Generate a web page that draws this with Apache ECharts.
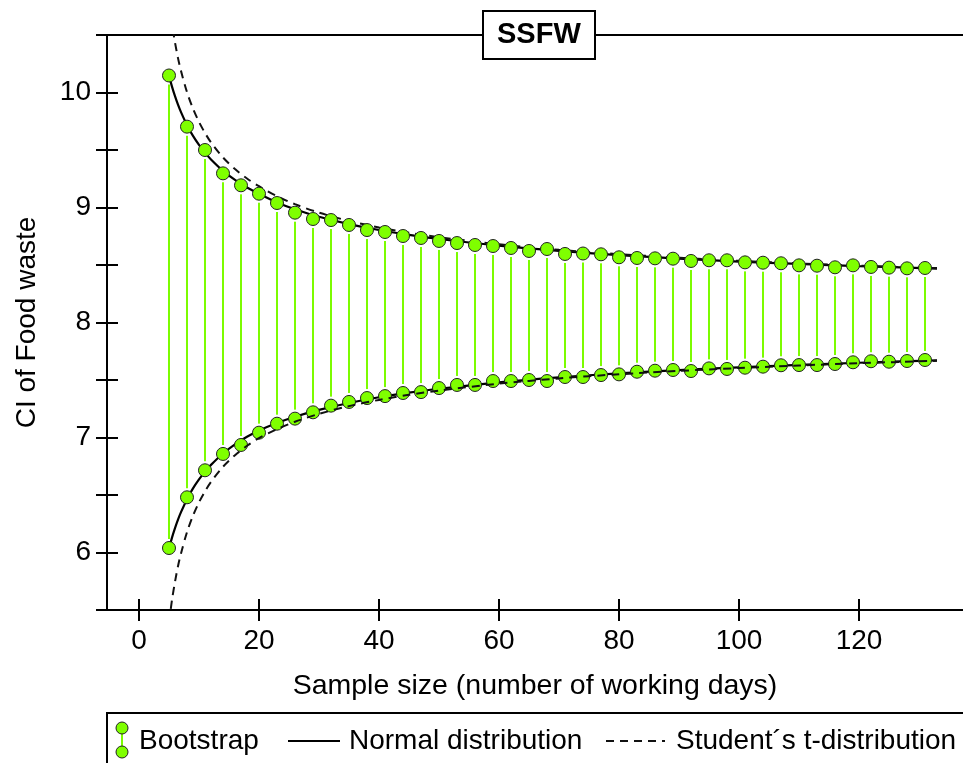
<!DOCTYPE html>
<html>
<head>
<meta charset="utf-8">
<script src="https://cdn.jsdelivr.net/npm/echarts@6/dist/echarts.min.js"></script>
<style>
html,body{margin:0;padding:0;background:#fff;}
#chart{width:963px;height:763px;}
</style>
</head>
<body>
<div id="chart"></div>
<script>
// ---- data ----
const sampleSizes = [5,8,11,14,17,20,23,26,29,32,35,38,41,44,47,50,53,56,59,62,65,68,71,74,77,80,83,86,89,92,95,98,101,104,107,110,113,116,119,122,125,128,131];
const bootUpper = [10.148,9.703,9.50,9.297,9.193,9.12,9.039,8.955,8.90,8.891,8.848,8.804,8.787,8.752,8.735,8.709,8.691,8.674,8.665,8.648,8.622,8.639,8.596,8.60,8.593,8.567,8.561,8.558,8.555,8.535,8.541,8.541,8.523,8.52,8.515,8.497,8.494,8.48,8.497,8.483,8.477,8.471,8.474];
const bootLower = [6.039,6.48,6.715,6.857,6.935,7.042,7.12,7.164,7.219,7.277,7.309,7.343,7.36,7.387,7.395,7.43,7.457,7.457,7.491,7.491,7.50,7.491,7.526,7.526,7.543,7.549,7.572,7.581,7.587,7.578,7.601,7.596,7.607,7.616,7.628,7.63,7.63,7.639,7.654,7.663,7.659,7.665,7.674];

const curveX = [5,5.5,6,6.5,7,8,9,10,11,12,14,16,18,20,23,26,30,35,40,45,50,60,70,80,90,100,110,120,133];
const normalUpper = [10.147,10.051,9.968,9.894,9.829,9.716,9.623,9.545,9.477,9.418,9.319,9.240,9.174,9.119,9.044,8.985,8.920,8.856,8.804,8.762,8.726,8.668,8.623,8.586,8.556,8.530,8.509,8.490,8.469];
const normalLower = [6.033,6.129,6.212,6.286,6.351,6.464,6.557,6.635,6.703,6.762,6.861,6.940,7.006,7.061,7.126,7.181,7.240,7.300,7.350,7.390,7.424,7.480,7.523,7.558,7.586,7.610,7.631,7.650,7.671];
const studentUpper = [10.79,10.592,10.435,10.299,10.188,10.003,9.860,9.744,9.648,9.566,9.435,9.334,9.252,9.185,9.098,9.029,8.955,8.883,8.827,8.781,8.742,8.680,8.632,8.594,8.563,8.536,8.514,8.494,8.473];
const studentLower = [5.39,5.588,5.745,5.881,5.992,6.177,6.320,6.436,6.532,6.614,6.745,6.846,6.928,6.995,7.072,7.137,7.205,7.273,7.327,7.371,7.408,7.468,7.514,7.550,7.579,7.604,7.626,7.646,7.667];

const xTicks = [0,20,40,60,80,100,120];
const yLabels = [6,7,8,9,10];
const xRange = [-5.333, 137.333];
const yRange = [5.5, 10.5];

// ---- chart ----
const FONT = '"Liberation Sans", Arial, Helvetica, sans-serif';
const FS = 28;
const GREEN = '#7FFF00';
const STEM = '#7CFC00';
const zip = (a, b) => a.map((v, i) => [v, b[i]]);

const chart = echarts.init(document.getElementById('chart'), null, {renderer: 'canvas'});

const axisLineStyle = {color: '#000', width: 2};

const option = {
  animation: false,
  backgroundColor: '#fff',
  title: {
    text: 'SSFW',
    left: 483, top: 11,
    padding: [10, 14],
    borderColor: '#000', borderWidth: 2,
    backgroundColor: '#fff',
    textStyle: {fontFamily: FONT, fontSize: 29, fontWeight: 'bold', color: '#000', lineHeight: 28}
  },
  grid: {left: 107, right: 0, top: 35, bottom: 153, containLabel: false},
  xAxis: [
    {
      type: 'value', min: xRange[0], max: xRange[1], position: 'bottom',
      axisLine: {show: true, onZero: false, lineStyle: axisLineStyle},
      axisTick: {show: true, customValues: xTicks, length: 11, inside: false, lineStyle: axisLineStyle},
      axisLabel: {customValues: xTicks, margin: 17, fontSize: FS, fontFamily: FONT, color: '#000'},
      splitLine: {show: false},
      name: 'Sample size (number of working days)',
      nameLocation: 'middle', nameGap: 62,
      nameTextStyle: {fontSize: 28.5, fontFamily: FONT, color: '#000'}
    },
    {
      type: 'value', min: xRange[0], max: xRange[1], position: 'bottom',
      axisLine: {show: false, onZero: false},
      axisTick: {show: true, customValues: xTicks, length: 11, inside: true, lineStyle: axisLineStyle},
      axisLabel: {show: false}, splitLine: {show: false}
    },
    {
      type: 'value', min: xRange[0], max: xRange[1], position: 'top',
      axisLine: {show: true, onZero: false, lineStyle: axisLineStyle},
      axisTick: {show: false}, axisLabel: {show: false}, splitLine: {show: false}
    }
  ],
  yAxis: [
    {
      type: 'value', min: yRange[0], max: yRange[1], interval: 0.5, position: 'left',
      axisLine: {show: true, onZero: false, lineStyle: axisLineStyle},
      axisTick: {show: true, length: 11, inside: false, lineStyle: axisLineStyle},
      axisLabel: {customValues: yLabels, margin: 16, fontSize: FS, fontFamily: FONT, color: '#000'},
      splitLine: {show: false},
      name: 'CI of Food waste', nameLocation: 'middle', nameGap: 66,
      nameTextStyle: {fontSize: FS, fontFamily: FONT, color: '#000'}
    },
    {
      type: 'value', min: yRange[0], max: yRange[1], interval: 0.5, position: 'left',
      axisLine: {show: false, onZero: false},
      axisTick: {show: true, length: 11, inside: true, lineStyle: axisLineStyle},
      axisLabel: {show: false}, splitLine: {show: false}
    }
  ],
  series: [
    {
      name: 'Bootstrap interval', type: 'custom', z: 1,
      data: sampleSizes.map((x, i) => [x, bootUpper[i], bootLower[i]]),
      encode: {x: 0, y: [1, 2]},
      renderItem: function (params, api) {
        const p1 = api.coord([api.value(0), api.value(1)]);
        const p2 = api.coord([api.value(0), api.value(2)]);
        return {
          type: 'line',
          shape: {x1: p1[0], y1: p1[1] + 9, x2: p2[0], y2: p2[1] - 9},
          style: {stroke: STEM, lineWidth: 2}
        };
      }
    },
    {
      name: 'Normal distribution', type: 'line', z: 2, data: zip(curveX, normalUpper),
      symbol: 'none', smooth: 0.3, lineStyle: {color: '#000', width: 2.2}
    },
    {
      name: 'Normal distribution', type: 'line', z: 2, data: zip(curveX, normalLower),
      symbol: 'none', smooth: 0.3, lineStyle: {color: '#000', width: 2.2}
    },
    {
      name: 'Bootstrap', type: 'scatter', z: 3, data: zip(sampleSizes, bootLower),
      symbolSize: 13, itemStyle: {color: GREEN, borderColor: '#222', borderWidth: 1, opacity: 1}
    },
    {
      name: 'Student´s t-distribution', type: 'line', z: 4, data: zip(curveX, studentUpper),
      symbol: 'none', smooth: 0.3, clip: true, lineStyle: {color: '#111', width: 2, type: [8, 6]}
    },
    {
      name: 'Student´s t-distribution', type: 'line', z: 4, data: zip(curveX, studentLower),
      symbol: 'none', smooth: 0.3, clip: true, lineStyle: {color: '#111', width: 2, type: [8, 6]}
    },
    {
      name: 'Bootstrap', type: 'scatter', z: 5, data: zip(sampleSizes, bootUpper),
      symbolSize: 13, itemStyle: {color: GREEN, borderColor: '#222', borderWidth: 1, opacity: 1}
    }
  ],
  graphic: [
    {type: 'rect', z: 10, shape: {x: 107, y: 713, width: 900, height: 100},
     style: {fill: '#fff', stroke: '#000', lineWidth: 2}},
    {type: 'line', z: 11, shape: {x1: 122, y1: 733, x2: 122, y2: 747}, style: {stroke: STEM, lineWidth: 2}},
    {type: 'circle', z: 12, shape: {cx: 122, cy: 728, r: 6}, style: {fill: GREEN, stroke: '#222', lineWidth: 1}},
    {type: 'circle', z: 12, shape: {cx: 122, cy: 752, r: 6}, style: {fill: GREEN, stroke: '#222', lineWidth: 1}},
    {type: 'text', z: 11, x: 139, y: 741,
     style: {text: 'Bootstrap', fontSize: FS, fontFamily: FONT, fill: '#000', verticalAlign: 'middle'}},
    {type: 'line', z: 11, shape: {x1: 288, y1: 741, x2: 340, y2: 741}, style: {stroke: '#000', lineWidth: 2}},
    {type: 'text', z: 11, x: 349, y: 741,
     style: {text: 'Normal distribution', fontSize: FS, fontFamily: FONT, fill: '#000', verticalAlign: 'middle'}},
    {type: 'line', z: 11, shape: {x1: 606, y1: 741, x2: 665, y2: 741}, style: {stroke: '#111', lineWidth: 2, lineDash: [8, 6]}},
    {type: 'text', z: 11, x: 676, y: 741,
     style: {text: 'Student´s t-distribution', fontSize: FS, fontFamily: FONT, fill: '#000', verticalAlign: 'middle'}}
  ]
};
chart.setOption(option);
</script>
</body>
</html>
